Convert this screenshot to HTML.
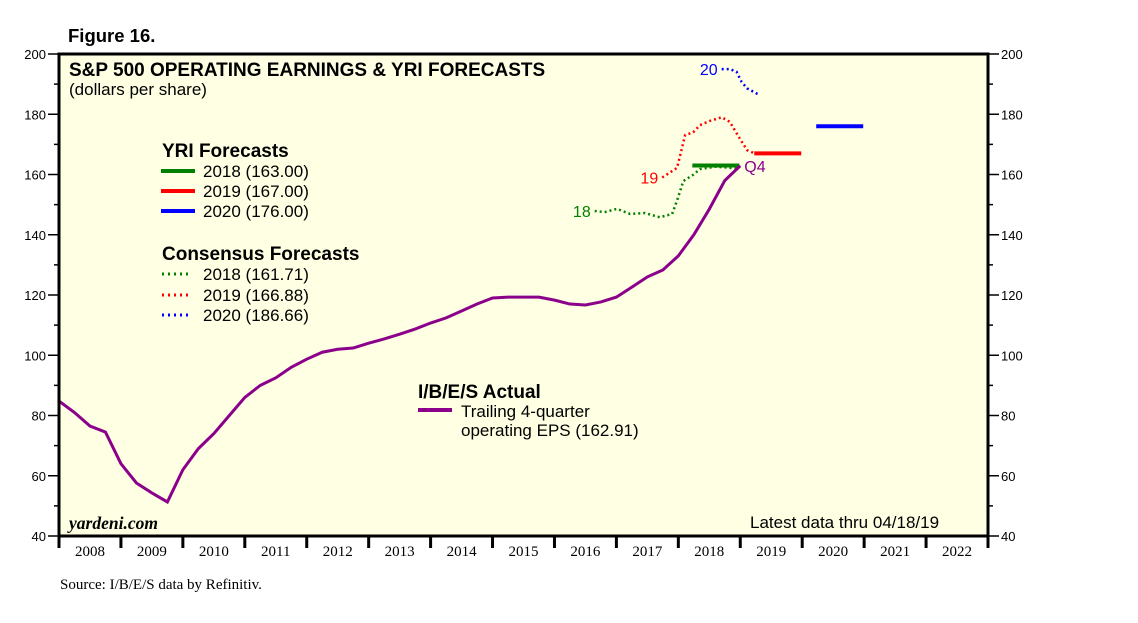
<!DOCTYPE html>
<html><head><meta charset="utf-8"><style>
html,body{margin:0;padding:0;background:#fff;}
svg{display:block;font-family:"Liberation Sans",Arial,sans-serif;}
</style></head><body>
<svg id="chart" width="1138" height="623" viewBox="0 0 1138 623" xmlns="http://www.w3.org/2000/svg">
<text x="68" y="42" font-size="18.5" font-weight="bold">Figure 16.</text>
<rect x="59" y="54" width="929" height="482" fill="#ffffe3"/>
<g id="grid"></g>
<g id="series"></g>
<rect x="59" y="54" width="929" height="482" fill="none" stroke="#000" stroke-width="3"/>
<text x="69" y="76" font-size="19" font-weight="bold">S&amp;P 500 OPERATING EARNINGS &amp; YRI FORECASTS</text>
<text x="69" y="95" font-size="17">(dollars per share)</text>
<g>
<text x="162" y="157" font-size="19" font-weight="bold">YRI Forecasts</text>
<line x1="161" y1="171" x2="195" y2="171" stroke="#008000" stroke-width="4"/>
<text x="203" y="177" font-size="17">2018 (163.00)</text>
<line x1="161" y1="191" x2="195" y2="191" stroke="#ff0000" stroke-width="4"/>
<text x="203" y="197" font-size="17">2019 (167.00)</text>
<line x1="161" y1="211" x2="195" y2="211" stroke="#0000ff" stroke-width="4"/>
<text x="203" y="217" font-size="17">2020 (176.00)</text>
<text x="162" y="260" font-size="19" font-weight="bold">Consensus Forecasts</text>
<line x1="162" y1="274" x2="190" y2="274" stroke="#008000" stroke-width="3" stroke-dasharray="2,4"/>
<text x="203" y="280" font-size="17">2018 (161.71)</text>
<line x1="162" y1="295" x2="190" y2="295" stroke="#ff0000" stroke-width="3" stroke-dasharray="2,4"/>
<text x="203" y="301" font-size="17">2019 (166.88)</text>
<line x1="162" y1="315" x2="190" y2="315" stroke="#0000ff" stroke-width="3" stroke-dasharray="2,4"/>
<text x="203" y="321" font-size="17">2020 (186.66)</text>
<text x="418" y="398" font-size="19" font-weight="bold">I/B/E/S Actual</text>
<line x1="418" y1="410" x2="452" y2="410" stroke="#8b008b" stroke-width="4"/>
<text x="461" y="417" font-size="17">Trailing 4-quarter</text>
<text x="461" y="436" font-size="17">operating EPS (162.91)</text>
</g>
<text x="69" y="529" font-size="17.5" font-weight="bold" font-style="italic" font-family="Liberation Serif,serif">yardeni.com</text>
<text x="750" y="528" font-size="17">Latest data thru 04/18/19</text>
<text x="60" y="589" font-size="15" font-family="Liberation Serif,serif">Source: I/B/E/S data by Refinitiv.</text>
</svg>
<script>
const years=[2008,2009,2010,2011,2012,2013,2014,2015,2016,2017,2018,2019,2020,2021,2022];
const yTicks=[40,60,80,100,120,140,160,180,200];
const actual=[84.8,81,76.5,74.5,64,57.6,54.3,51.3,62,69,74,80,86,90,92.5,96,98.7,101,102,102.4,104,105.4,107,108.7,110.7,112.4,114.7,117,119,119.3,119.3,119.3,118.3,117,116.7,117.7,119.3,122.6,126,128.3,133,140,148.5,158,162.9];
const cons18T=[2016.65,2016.81,2017.01,2017.22,2017.46,2017.70,2017.90,2017.99,2018.08,2018.24,2018.35,2018.60,2018.96];
const cons18V=[147.9,147.5,148.6,146.9,147.2,145.8,146.9,152,157.8,159.9,161.8,162.6,162];
const cons19T=[2017.74,2017.98,2018.11,2018.24,2018.35,2018.51,2018.70,2018.83,2018.99,2019.11,2019.21];
const cons19V=[159,162.2,173.1,174,176.4,177.8,179,177.5,172,168.1,167.2];
const cons20T=[2018.70,2018.83,2018.94,2019.02,2019.11,2019.29];
const cons20V=[195,195,194.1,190.8,188.6,186.6];
const yriYears=[2018,2019,2020];
const yriVals=[163,167,176];
const yriColors=["#008000","#ff0000","#0000ff"];
const consColors=["#008000","#ff0000","#0000ff"];
const consLabels=["18","19","20"];

const NS="http://www.w3.org/2000/svg";
const L=59,R=988,T=54,B=536,Y0=2008,Y1=2023,V0=40,V1=200;
const xs=t=>L+(t-Y0)/(Y1-Y0)*(R-L);
const ys=v=>B-(v-V0)/(V1-V0)*(B-T);
function mk(tag,attrs,parent){const e=document.createElementNS(NS,tag);for(const k in attrs)e.setAttribute(k,attrs[k]);parent.appendChild(e);return e;}
const g=document.getElementById('grid'),s=document.getElementById('series');
for(let v=40;v<=200;v+=10){
  const major=v%20===0,len=major?11:5;
  let t=mk('line',{x1:L-len,x2:L,y1:ys(v),y2:ys(v),stroke:'#000','stroke-width':1.5},g);
  
  
  t=mk('line',{x1:R,x2:R+len,y1:ys(v),y2:ys(v),stroke:'#000','stroke-width':1.5},g);
  
  
}
yTicks.forEach(v=>{
  let t=mk('text',{x:L-13,y:ys(v)+5,'text-anchor':'end','font-size':13},g);t.textContent=v;
  
  
  t=mk('text',{x:R+13,y:ys(v)+5,'font-size':13},g);t.textContent=v;
  
  
});
years.forEach(y=>{
  let t=mk('line',{x1:xs(y),x2:xs(y),y1:B,y2:B+12,stroke:'#000','stroke-width':3},g);
  
  
  t=mk('text',{x:xs(y+0.5),y:B+20,'text-anchor':'middle','font-size':15,'font-family':'Liberation Serif,serif'},g);t.textContent=y;
  
  
});
let t=mk('line',{x1:R,x2:R,y1:B,y2:B+12,stroke:'#000','stroke-width':3},g);


// consensus
[[cons18T,cons18V],[cons19T,cons19V],[cons20T,cons20V]].forEach((d,i)=>{
  const pts=d[0].map((tt,j)=>xs(tt)+','+ys(d[1][j])).join(' ');
  const p=mk('polyline',{points:pts,fill:'none',stroke:consColors[i],'stroke-width':2.5,'stroke-dasharray':'2,3'},s);
  
  
  const lb=mk('text',{x:xs(d[0][0])-4,y:ys(d[1][0])+6,'text-anchor':'end','font-size':16,fill:consColors[i]},s);lb.textContent=consLabels[i];
  
  
});
// yri
yriYears.forEach((y,i)=>{
  const l=mk('line',{x1:xs(y)+14,x2:xs(y)+61,y1:ys(yriVals[i]),y2:ys(yriVals[i]),stroke:yriColors[i],'stroke-width':4},s);
  
  
});
// actual
const ap=actual.map((v,i)=>xs(Y0+i/4)+','+ys(v)).join(' ');
const pl=mk('polyline',{points:ap,fill:'none',stroke:'#8b008b','stroke-width':3},s);


const q=mk('text',{x:xs(Y0+(actual.length-1)/4)+4,y:ys(actual[actual.length-1])+6,'font-size':16,fill:'#8b008b'},s);q.textContent='Q4';


</script>
</body></html>
